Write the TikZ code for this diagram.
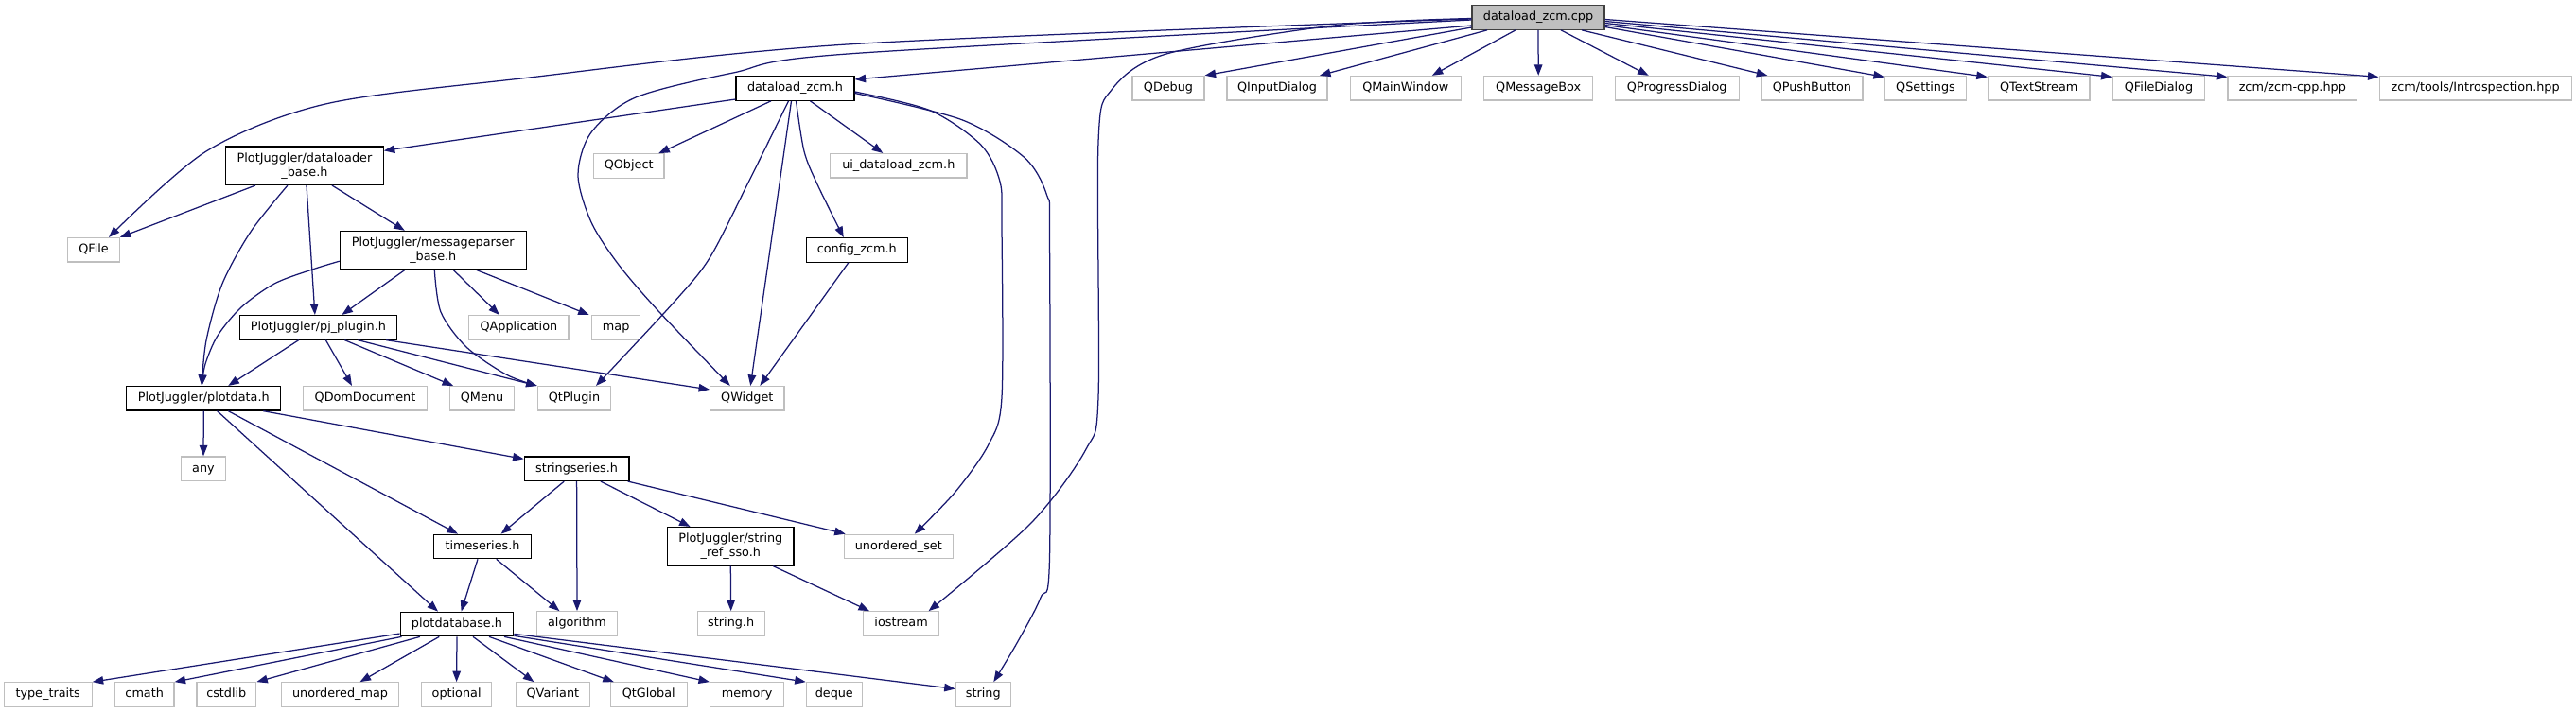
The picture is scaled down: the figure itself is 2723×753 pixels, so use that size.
\documentclass[tikz,border=0pt]{standalone}
\usepackage{fontspec}
\newfontfamily\dvs{DejaVu Sans}
\usetikzlibrary{arrows.meta}
\definecolor{edgeblue}{HTML}{191970}
\definecolor{greyseventyfive}{HTML}{BFBFBF}
\definecolor{greytwentyfive}{HTML}{404040}
\begin{document}
\begin{tikzpicture}[x=1pt,y=-1pt,
  nd/.style={rectangle, inner sep=0pt, line width=1.2pt, font={\dvs\fontsize{12.8}{15}\selectfont}, minimum height=25.5pt, text height=9.4pt, text depth=2.8pt},
  doc/.style={nd, draw=black, fill=white},
  ext/.style={nd, draw=greyseventyfive, fill=white},
  rootn/.style={nd, draw=greytwentyfive, fill=greyseventyfive},
  two/.style={align=center, minimum height=40.5pt, text height=, text depth=},
  dep/.style={draw=edgeblue, line width=1.25pt, -{Triangle[length=11.5pt,width=8.5pt]}}
]
\useasboundingbox (0,0) rectangle (2723,753);

% nodes
\node[rootn, minimum width=140pt] (cpp) at (1626,18.5) {dataload\_zcm.cpp};
\node[doc, minimum width=125pt] (dzh) at (840.5,93.5) {dataload\_zcm.h};
\node[ext, minimum width=76pt] (qdebug) at (1235,93.2) {QDebug};
\node[ext, minimum width=106pt] (qinput) at (1350,93.2) {QInputDialog};
\node[ext, minimum width=116.6pt] (qmain) at (1485.8,93.2) {QMainWindow};
\node[ext, minimum width=115pt] (qmsg) at (1626.2,93.2) {QMessageBox};
\node[ext, minimum width=131pt] (qprog) at (1772.7,93.2) {QProgressDialog};
\node[ext, minimum width=107pt] (qpush) at (1915.4,93.2) {QPushButton};
\node[ext, minimum width=86pt] (qset) at (2035.5,93.2) {QSettings};
\node[ext, minimum width=107.6pt] (qtext) at (2155.2,93.2) {QTextStream};
\node[ext, minimum width=97.7pt] (qfiledlg) at (2282,93.2) {QFileDialog};
\node[ext, minimum width=136.6pt] (zcmcpp) at (2423.3,93.2) {zcm/zcm-cpp.hpp};
\node[ext, minimum width=203pt] (intro) at (2616.6,93.2) {zcm/tools/Introspection.hpp};

\node[doc, two, minimum width=166.5pt] (dlb) at (322,175.2) {PlotJuggler/dataloader\\\_base.h};
\node[ext, minimum width=74.6pt] (qobject) at (664.7,175.5) {QObject};
\node[ext, minimum width=144.3pt] (ui) at (949.8,175.3) {ui\_dataload\_zcm.h};

\node[ext, minimum width=54.5pt] (qfile) at (99,264.3) {QFile};
\node[doc, two, minimum width=196.8pt] (mpb) at (457.8,264.7) {PlotJuggler/messageparser\\\_base.h};
\node[doc, minimum width=107pt] (config) at (905.8,264.5) {config\_zcm.h};

\node[doc, minimum width=166.4pt] (pj) at (336.4,346.3) {PlotJuggler/pj\_plugin.h};
\node[ext, minimum width=105.3pt] (qapp) at (548.4,346.3) {QApplication};
\node[ext, minimum width=51pt] (map) at (651.2,346.3) {map};

\node[doc, minimum width=163pt] (plotdata) at (215.3,421.3) {PlotJuggler/plotdata.h};
\node[ext, minimum width=130.3pt] (qdom) at (386,421.3) {QDomDocument};
\node[ext, minimum width=67.6pt] (qmenu) at (509.5,421.3) {QMenu};
\node[ext, minimum width=77.4pt] (qtplugin) at (607,421.3) {QtPlugin};
\node[ext, minimum width=78.3pt] (qwidget) at (789.8,421.3) {QWidget};

\node[ext, minimum width=47pt] (any) at (215,495.7) {any};
\node[doc, minimum width=110.8pt] (sseries) at (609.6,495.7) {stringseries.h};

\node[doc, minimum width=102.4pt] (tseries) at (510,578) {timeseries.h};
\node[doc, two, minimum width=133.3pt] (srs) at (772.3,577.8) {PlotJuggler/string\\\_ref\_sso.h};
\node[ext, minimum width=115pt] (uset) at (949.8,578) {unordered\_set};

\node[doc, minimum width=119.7pt] (pdb) at (483,660) {plotdatabase.h};
\node[ext, minimum width=85pt] (algo) at (610,659.5) {algorithm};
\node[ext, minimum width=70.8pt] (stringh) at (772.7,659.5) {string.h};
\node[ext, minimum width=80pt] (iostream) at (952.6,659.5) {iostream};

\node[ext, minimum width=92.8pt] (tt) at (50.7,734.5) {type\_traits};
\node[ext, minimum width=62.6pt] (cmath) at (152.7,734.5) {cmath};
\node[ext, minimum width=62.8pt] (cstdlib) at (239.3,734.5) {cstdlib};
\node[ext, minimum width=124pt] (umap) at (359.5,734.5) {unordered\_map};
\node[ext, minimum width=74pt] (optional) at (482.6,734.5) {optional};
\node[ext, minimum width=78.5pt] (qvariant) at (584.4,734.5) {QVariant};
\node[ext, minimum width=80.7pt] (qtglobal) at (685.8,734.5) {QtGlobal};
\node[ext, minimum width=78pt] (memory) at (789.6,734.5) {memory};
\node[ext, minimum width=59pt] (deque) at (881.8,734.5) {deque};
\node[ext, minimum width=58pt] (string) at (1039.3,734.5) {string};

% edges from dataload_zcm.cpp
\draw[dep] plot[smooth] coordinates {([yshift=-1.5pt]cpp.west) (900,46.7) (551,83) (344,110) (218,160) ([xshift=16pt]qfile.north)};
\draw[dep] ([yshift=-8.5pt]cpp.west) -- ([yshift=9.5pt]dzh.east);
\draw[dep] plot[smooth] coordinates {([yshift=-2.5pt]cpp.west) (900,56.7) (775,77) (672,103) (625,140) (611,185) (625,235) (654,280) (697,330) ([xshift=-18pt]qwidget.north)};
\draw[dep] plot[smooth] coordinates {([yshift=-1pt]cpp.west) (1410,27) (1233,57) (1175,95) (1161,150) (1161,420) (1148,475) (1090,553) ([xshift=29pt]iostream.north)};
\draw[dep] ([yshift=-10.5pt]cpp.west) -- (qdebug.north east);
\draw[dep] ([xshift=-54pt]cpp.south) -- ([xshift=45pt]qinput.north);
\draw[dep] ([xshift=-24pt]cpp.south) -- ([xshift=28pt]qmain.north);
\draw[dep] (cpp.south) -- (qmsg.north);
\draw[dep] ([xshift=24pt]cpp.south) -- ([xshift=-30pt]qprog.north);
\draw[dep] ([xshift=46pt]cpp.south) -- ([xshift=7pt]qpush.north west);
\draw[dep] ([yshift=-10pt]cpp.east) -- ([yshift=-1.5pt]qset.north west);
\draw[dep] ([yshift=-8pt]cpp.east) -- ([yshift=-1.5pt]qtext.north west);
\draw[dep] ([yshift=-6pt]cpp.east) -- ([yshift=-1.5pt]qfiledlg.north west);
\draw[dep] ([yshift=-4pt]cpp.east) -- ([yshift=-1.5pt]zcmcpp.north west);
\draw[dep] ([yshift=-2pt]cpp.east) -- ([yshift=-1.5pt]intro.north west);

% edges from dataload_zcm.h
\draw[dep] ([yshift=-11.5pt]dzh.west) -- ([yshift=-5pt]dlb.north east);
\draw[dep] ([xshift=-25.5pt]dzh.south) -- ([xshift=31.6pt]qobject.north);
\draw[dep] ([xshift=16pt]dzh.south) -- ([xshift=-16.5pt]ui.north);
\draw[dep] plot[smooth] coordinates {([xshift=1pt]dzh.south) (850,160) (864,195) ([xshift=-14pt]config.north)};
\draw[dep] ([xshift=-4pt]dzh.south) -- ([xshift=3.5pt]qwidget.north);
\draw[dep] plot[smooth] coordinates {([xshift=-7pt]dzh.south) (790,195) (750,273) (712,320) ([xshift=23pt]qtplugin.north)};
\draw[dep] plot[smooth] coordinates {([yshift=-3.5pt]dzh.east) (983,116.7) (1036.7,153) (1057,192) (1059,240) (1059,420) (1045,470) (1010,520) ([xshift=17pt]uset.north)};
\draw[dep] plot[smooth] coordinates {([yshift=-5pt]dzh.east) (1016.7,126.7) (1083,166.7) (1106.7,206.7) (1109.5,250) (1109.5,590) (1100,632) (1075,680) ([xshift=11pt]string.north)};

% config
\draw[dep] ([xshift=-9pt]config.south) -- ([xshift=13.5pt]qwidget.north);

% dataloader_base
\draw[dep] ([xshift=-52pt]dlb.south) -- (qfile.north east);
\draw[dep] ([xshift=29pt]dlb.south) -- ([xshift=-30pt]mpb.north);
\draw[dep] plot[smooth] coordinates {([xshift=-18pt]dlb.south) (265,245) (235,300) (218,360) ([xshift=-2pt]plotdata.north)};
\draw[dep] ([xshift=2pt]dlb.south) -- ([xshift=-3.5pt]pj.north);

% messageparser_base
\draw[dep] plot[smooth] coordinates {([yshift=-11.5pt]mpb.west) (330,285) (290,300) (255,325) (230,355) (217,385) ([xshift=-2pt]plotdata.north)};
\draw[dep] ([xshift=-30pt]mpb.south) -- ([xshift=25pt]pj.north);
\draw[dep] plot[smooth] coordinates {([xshift=1.5pt]mpb.south) (466,330) (493,367) (535,396) (qtplugin.north west)};
\draw[dep] ([xshift=21.5pt]mpb.south) -- ([xshift=-20.5pt]qapp.north);
\draw[dep] ([xshift=46pt]mpb.south) -- ([xshift=-28.5pt]map.north);

% pj_plugin
\draw[dep] ([xshift=-20.7pt]pj.south) -- ([xshift=26pt]plotdata.north);
\draw[dep] ([xshift=8pt]pj.south) -- ([xshift=-14pt]qdom.north);
\draw[dep] ([xshift=28pt]pj.south) -- ([xshift=4pt]qmenu.north west);
\draw[dep] ([xshift=42pt]pj.south) -- (qtplugin.north west);
\draw[dep] ([xshift=-12pt]pj.south east) -- ([yshift=-4pt]qwidget.north west);

% plotdata
\draw[dep] (plotdata.south) -- (any.north);
\draw[dep] ([xshift=14.3pt]plotdata.south) -- ([xshift=-20pt]pdb.north);
\draw[dep] ([xshift=26pt]plotdata.south) -- ([xshift=-26pt]tseries.north);
\draw[dep] ([xshift=63pt]plotdata.south) -- ([yshift=-3pt]sseries.north west);

% stringseries
\draw[dep] ([xshift=-13.3pt]sseries.south) -- ([xshift=19.6pt]tseries.north);
\draw[dep] (sseries.south) -- (algo.north);
\draw[dep] ([xshift=25.3pt]sseries.south) -- ([xshift=-42.7pt]srs.north);
\draw[dep] ([xshift=-2pt]sseries.south east) -- ([xshift=2pt]uset.north west);

% timeseries
\draw[dep] ([xshift=-5pt]tseries.south) -- ([xshift=4.6pt]pdb.north);
\draw[dep] ([xshift=14.7pt]tseries.south) -- ([xshift=-18.6pt]algo.north);

% string_ref_sso
\draw[dep] (srs.south) -- (stringh.north);
\draw[dep] ([xshift=45pt]srs.south) -- ([xshift=-33.6pt]iostream.north);

% plotdatabase
\draw[dep] ([yshift=-10pt]pdb.west) -- (tt.north east);
\draw[dep] ([xshift=2pt]pdb.south west) -- (cmath.north east);
\draw[dep] ([xshift=21.4pt]pdb.south west) -- (cstdlib.north east);
\draw[dep] ([xshift=-18.7pt]pdb.south) -- ([xshift=21pt]umap.north);
\draw[dep] (pdb.south) -- (optional.north);
\draw[dep] ([xshift=17pt]pdb.south) -- ([xshift=-20pt]qvariant.north);
\draw[dep] ([xshift=34pt]pdb.south) -- ([xshift=4pt]qtglobal.north west);
\draw[dep] ([xshift=50pt]pdb.south) -- (memory.north west);
\draw[dep] ([yshift=1pt]pdb.south east) -- (deque.north west);
\draw[dep] ([yshift=3pt]pdb.south east) -- ([yshift=6pt]string.west);
\end{tikzpicture}
\end{document}
